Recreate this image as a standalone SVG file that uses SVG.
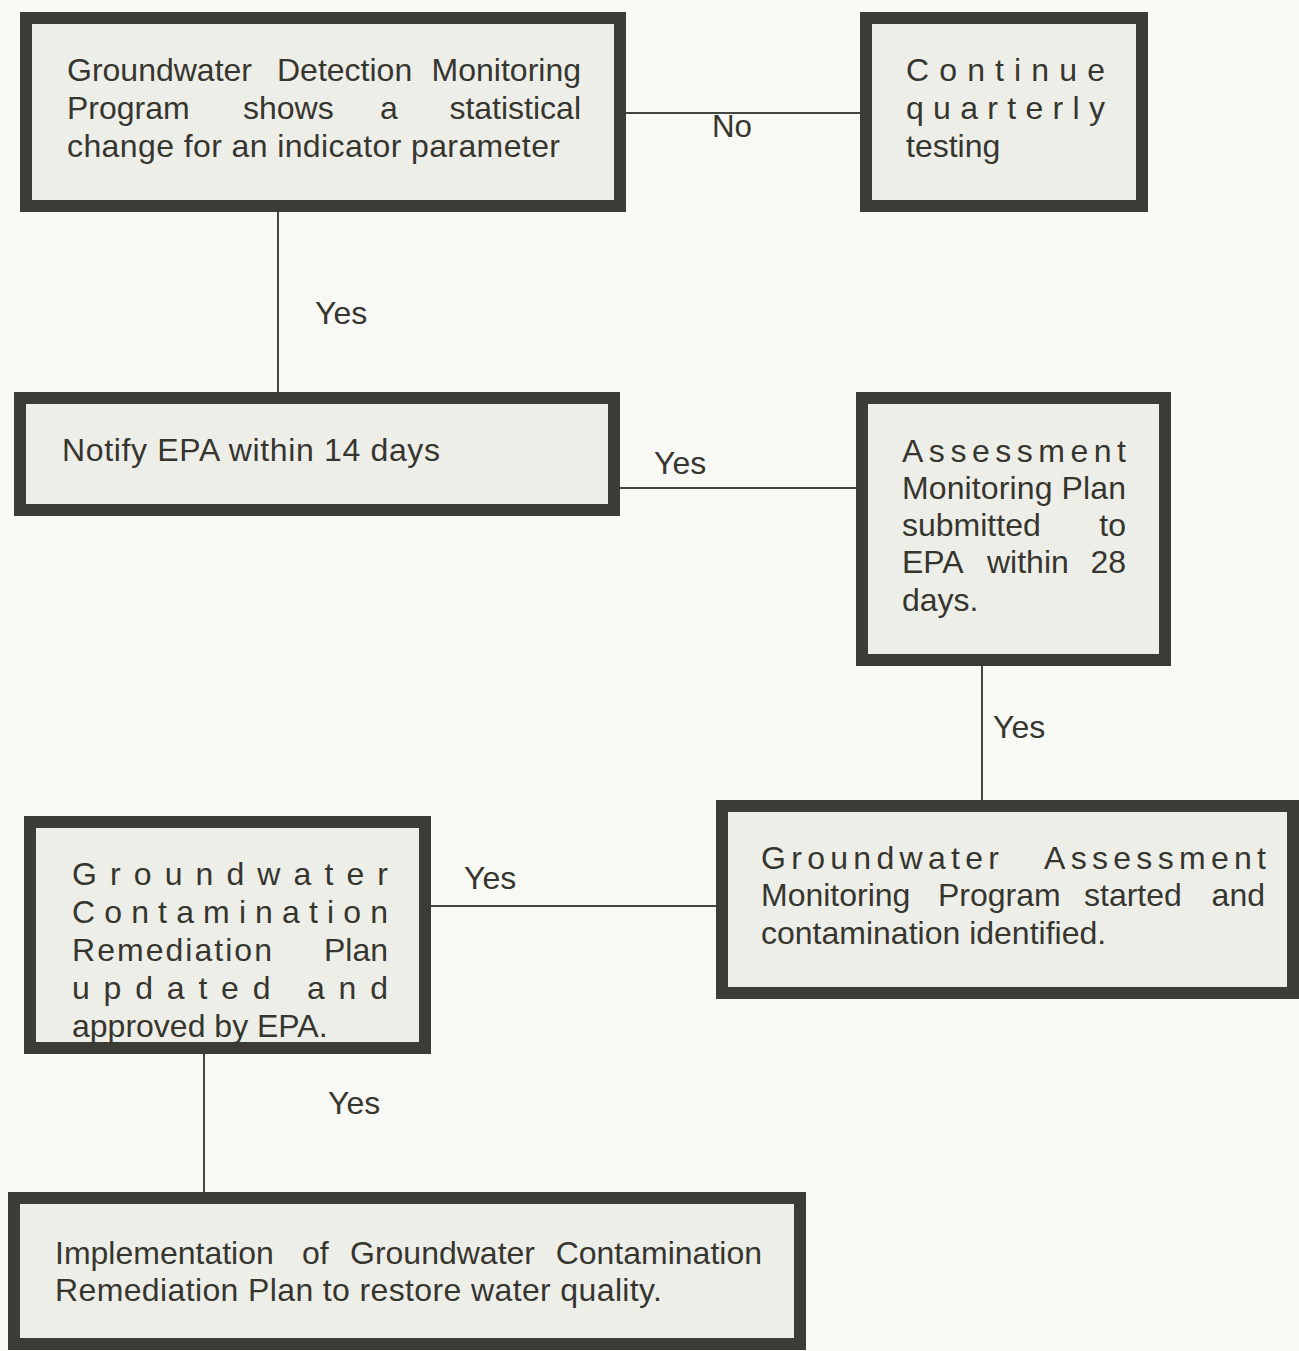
<svg xmlns="http://www.w3.org/2000/svg" width="1299" height="1351" viewBox="0 0 1299 1351">
<style>
.box{fill:#eeeee9;stroke:#3c3c37;stroke-width:12}
text{font-family:"Liberation Sans",Arial,sans-serif;font-size:32px;fill:#36362f}
.e{text-anchor:end}
.c{stroke:#45453f;stroke-width:2;fill:none}
</style>
<rect x="0" y="0" width="1299" height="1351" fill="#f8f8f4"/>
<g id="connectors">
<line class="c" x1="626" y1="113" x2="860" y2="113"/>
<line class="c" x1="278" y1="212" x2="278" y2="392"/>
<line class="c" x1="620" y1="488" x2="856" y2="488"/>
<line class="c" x1="982" y1="666" x2="982" y2="800"/>
<line class="c" x1="431" y1="906" x2="716" y2="906"/>
<line class="c" x1="204" y1="1054" x2="204" y2="1192"/>
<text x="712" y="137" textLength="40" lengthAdjust="spacingAndGlyphs">No</text>
<text x="315" y="324">Yes</text>
<text x="654" y="474">Yes</text>
<text x="993" y="738">Yes</text>
<text x="464" y="889">Yes</text>
<text x="328" y="1114">Yes</text>
</g>
<g id="n1">
<rect class="box" x="26" y="18" width="594" height="188"/>
<text x="67" y="81">Groundwater</text>
<text x="277" y="81">Detection</text>
<text class="e" x="581" y="81">Monitoring</text>
<text x="67" y="119">Program</text>
<text x="243" y="119">shows</text>
<text x="380" y="119">a</text>
<text class="e" x="581" y="119">statistical</text>
<text x="67" y="157" textLength="493" lengthAdjust="spacing">change for an indicator parameter</text>
</g>
<g id="n2">
<rect class="box" x="866" y="18" width="276" height="188"/>
<text x="906" y="81" textLength="199" lengthAdjust="spacing">Continue</text>
<text x="906" y="119" textLength="199" lengthAdjust="spacing">quarterly</text>
<text x="906" y="157">testing</text>
</g>
<g id="n3">
<rect class="box" x="20" y="398" width="594" height="112"/>
<text x="62" y="461" textLength="378" lengthAdjust="spacing">Notify EPA within 14 days</text>
</g>
<g id="n4">
<rect class="box" x="862" y="398" width="303" height="262"/>
<text x="902" y="462" textLength="224" lengthAdjust="spacing">Assessment</text>
<text x="902" y="499" textLength="224" lengthAdjust="spacing">Monitoring Plan</text>
<text x="902" y="536">submitted</text>
<text class="e" x="1126" y="536">to</text>
<text x="902" y="573">EPA</text>
<text x="987" y="573">within</text>
<text class="e" x="1126" y="573">28</text>
<text x="902" y="611">days.</text>
</g>
<g id="n5">
<rect class="box" x="722" y="806" width="571" height="187"/>
<text x="761" y="869" textLength="238" lengthAdjust="spacing">Groundwater</text>
<text class="e" x="1266" y="869" textLength="222" lengthAdjust="spacing">Assessment</text>
<text x="761" y="906">Monitoring</text>
<text x="938" y="906">Program</text>
<text x="1084" y="906">started</text>
<text class="e" x="1265" y="906">and</text>
<text x="761" y="944">contamination identified.</text>
</g>
<g id="n6">
<rect class="box" x="30" y="822" width="395" height="226"/>
<text x="72" y="885" textLength="316" lengthAdjust="spacing">Groundwater</text>
<text x="72" y="923" textLength="316" lengthAdjust="spacing">Contamination</text>
<text x="72" y="961" textLength="200" lengthAdjust="spacing">Remediation</text>
<text class="e" x="388" y="961">Plan</text>
<text x="72" y="999" textLength="316" lengthAdjust="spacing">updated  and</text>
<text x="72" y="1037">approved by EPA.</text>
</g>
<g id="n7">
<rect class="box" x="14" y="1198" width="786" height="146"/>
<text x="55" y="1264">Implementation</text>
<text x="302" y="1264">of</text>
<text x="350" y="1264">Groundwater</text>
<text class="e" x="762" y="1264">Contamination</text>
<text x="55" y="1301" textLength="607" lengthAdjust="spacing">Remediation Plan to restore water quality.</text>
</g>
</svg>
